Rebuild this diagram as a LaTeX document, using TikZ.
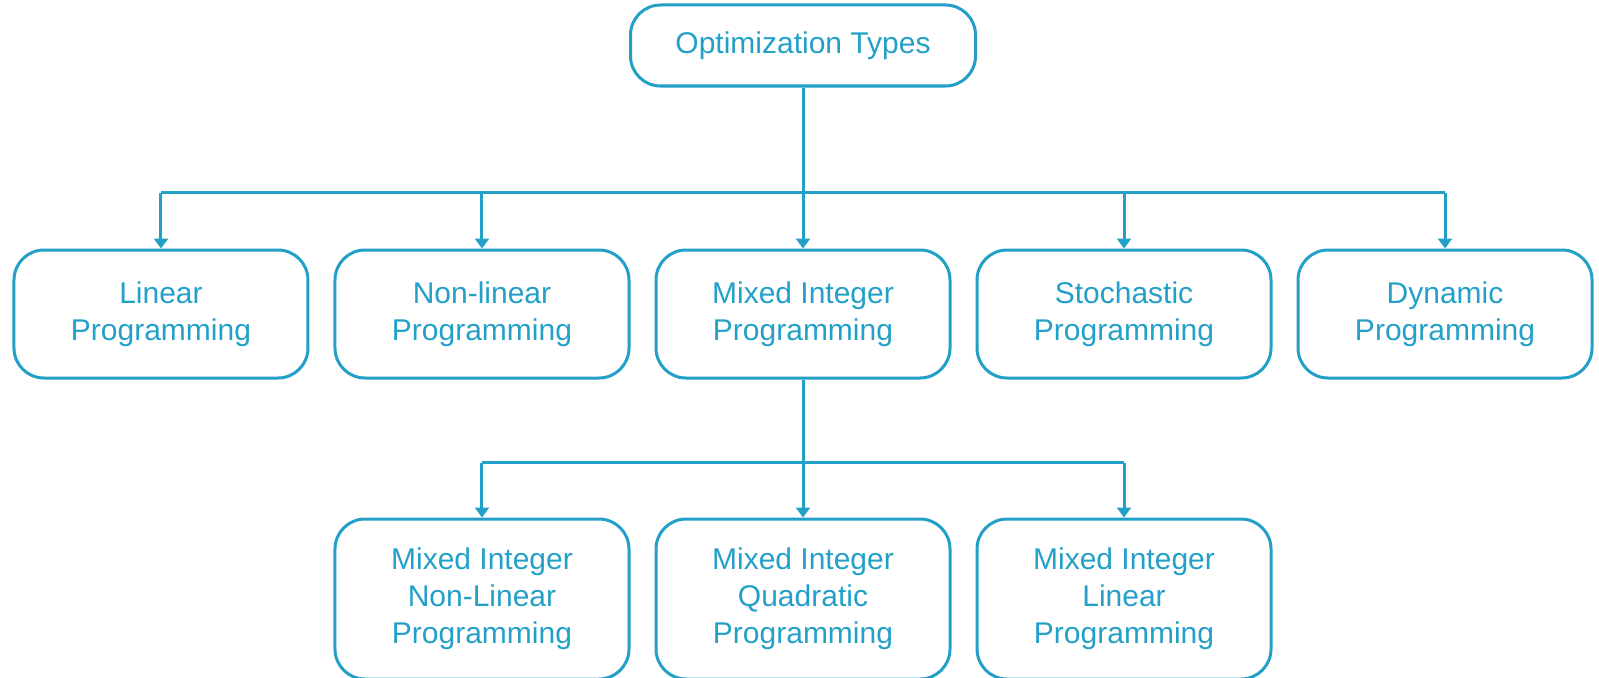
\documentclass[tikz,border=0pt]{standalone}
\usepackage{fontspec}
\setmainfont{Liberation Sans}
\usetikzlibrary{positioning,arrows.meta}
\definecolor{optblue}{RGB}{35,160,200}

\begin{document}
\begin{tikzpicture}[x=0.5bp,y=-0.5bp,>={Triangle[length=5bp,width=7bp]},
  node distance=80.5bp and 12bp,
  box/.style={draw=optblue,line width=1.5bp,rounded corners=15bp,text=optblue,align=center,
    font=\fontsize{15bp}{18.5bp}\selectfont,minimum width=147bp,minimum height=64bp,inner sep=2bp},
  link/.style={draw=optblue,line width=1.5bp}]
\useasboundingbox (0,0) rectangle (1599,678);
\node[box,minimum width=172.5bp,minimum height=40.5bp] (top) at (803,45.5) {Optimization Types};
\node[box] (mip) [below=of top] {Mixed Integer\\Programming};
\node[box] (nlp) [left=of mip] {Non-linear\\Programming};
\node[box] (lp) [left=of nlp] {Linear\\Programming};
\node[box] (sp) [right=of mip] {Stochastic\\Programming};
\node[box] (dp) [right=of sp] {Dynamic\\Programming};
\node[box,minimum height=80bp] (miqp) [below=69bp of mip] {Mixed Integer\\Quadratic\\Programming};
\node[box,minimum height=80bp] (minlp) [left=of miqp] {Mixed Integer\\Non-Linear\\Programming};
\node[box,minimum height=80bp] (milp) [right=of miqp] {Mixed Integer\\Linear\\Programming};
% first level
\coordinate[below=52.5bp of top.south] (bus);
\draw[link,->] (top) -- (mip);
\draw[link] (lp.north |- bus) -- (dp.north |- bus);
\foreach \n in {lp,nlp,sp,dp}
  \draw[link,->] (\n.north |- bus) -- (\n);
% second level
\coordinate[below=41.5bp of mip.south] (bus2);
\draw[link,->] (mip) -- (miqp);
\draw[link] (minlp.north |- bus2) -- (milp.north |- bus2);
\foreach \n in {minlp,milp}
  \draw[link,->] (\n.north |- bus2) -- (\n);
\end{tikzpicture}
\end{document}
